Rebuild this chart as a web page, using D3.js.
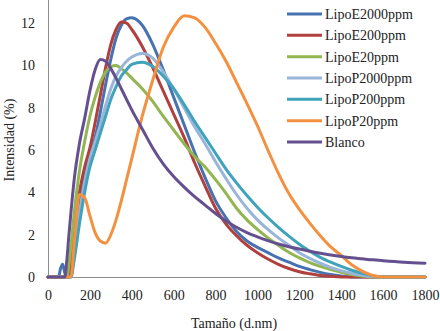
<!DOCTYPE html>
<html>
<head>
<meta charset="utf-8">
<script src="https://cdn.jsdelivr.net/npm/d3@7"></script>
<style>
  body { margin: 0; background: #fff; }
  svg { display: block; }
  svg text { font-family: "Liberation Serif", "Times New Roman", "DejaVu Serif", serif; }
</style>
</head>
<body>
<svg id="size-chart"></svg>
<script>
// particle size grid (d.nm) shared by every series
const sizes = [0, 50, 60, 70, 80, 90, 100, 110, 125, 150, 175, 200, 225, 250, 275, 300, 325, 350, 375, 400,
  450, 500, 550, 600, 650, 700, 750, 800, 850, 900, 950, 1000, 1050, 1100, 1150, 1200, 1250, 1300, 1350, 1400,
  1450, 1500, 1550, 1600, 1700, 1800];

const lipoE2000 = [0, 0, 0.4, 0.6, 0.2, 0, 0, 0.6, 1.8, 3.6, 4.9, 5.8, 6.6, 7.8, 9.1, 10.3, 11.3, 11.9, 12.2, 12.25,
  11.9, 11.0, 9.8, 8.5, 7.2, 5.9, 4.7, 3.6, 2.8, 2.15, 1.7, 1.4, 1.15, 0.9, 0.7, 0.5, 0.35, 0.22, 0.12, 0.05,
  0, 0, 0, 0, 0, 0];
const lipoE200 = [0, 0, 0, 0, 0, 0, 0, 0.8, 2.2, 4.0, 5.2, 6.1, 7.3, 8.6, 9.9, 11.0, 11.7, 12.05, 12.0, 11.7,
  10.9, 9.9, 8.8, 7.7, 6.6, 5.4, 4.3, 3.25, 2.5, 1.95, 1.5, 1.15, 0.85, 0.6, 0.4, 0.25, 0.15, 0.07, 0.03, 0,
  0, 0, 0, 0, 0, 0];
const lipoE20 = [0, 0, 0, 0, 0, 0, 0.6, 1.5, 3.0, 5.0, 6.4, 7.6, 8.5, 9.2, 9.7, 9.95, 10.0, 9.85, 9.65, 9.4,
  8.9, 8.3, 7.6, 6.95, 6.3, 5.7, 5.2, 4.6, 3.95, 3.25, 2.7, 2.25, 1.85, 1.5, 1.17, 0.9, 0.68, 0.5, 0.35, 0.22,
  0.12, 0.05, 0, 0, 0, 0];
const lipoP2000 = [0, 0, 0, 0, 0, 0, 0, 0, 1.2, 3.0, 4.5, 5.6, 6.4, 7.2, 8.1, 8.9, 9.5, 9.9, 10.2, 10.4,
  10.57, 10.35, 9.7, 8.9, 8.0, 7.1, 6.3, 5.45, 4.65, 3.9, 3.25, 2.7, 2.25, 1.85, 1.5, 1.15, 0.88, 0.65, 0.45, 0.3,
  0.18, 0.08, 0.02, 0, 0, 0];
const lipoP200 = [0, 0, 0, 0, 0, 0, 0, 0, 0.8, 2.5, 4.0, 5.2, 6.0, 6.8, 7.6, 8.4, 9.0, 9.5, 9.8, 10.05,
  10.15, 9.95, 9.5, 8.9, 8.15, 7.35, 6.6, 5.85, 5.1, 4.45, 3.85, 3.3, 2.8, 2.35, 1.93, 1.55, 1.22, 0.93, 0.7, 0.5,
  0.32, 0.17, 0.06, 0, 0, 0];
const lipoP20 = [0, 0, 0, 0, 0, 0, 0, 0, 1.6, 3.9, 3.75, 2.9, 2.1, 1.7, 1.6, 2.0, 2.7, 3.6, 4.6, 5.6,
  7.6, 9.3, 10.85, 11.8, 12.35, 12.25, 11.8, 11.05, 10.2, 9.2, 8.2, 7.15, 6.0, 4.9, 3.95, 3.2, 2.55, 1.95, 1.42, 1.02,
  0.58, 0.28, 0.07, 0, 0, 0];
const blanco = [0, 0, 0, 0, 0, 0.8, 2.0, 3.1, 4.6, 6.3, 7.5, 8.8, 9.8, 10.28, 10.2, 9.85, 9.4, 8.9, 8.4, 7.9,
  7.0, 6.1, 5.35, 4.75, 4.25, 3.8, 3.4, 3.0, 2.65, 2.35, 2.1, 1.9, 1.72, 1.56, 1.43, 1.32, 1.22, 1.12, 1.04, 0.97,
  0.91, 0.86, 0.81, 0.77, 0.7, 0.65];

const seriesNames = ["LipoE2000ppm", "LipoE200ppm", "LipoE20ppm", "LipoP2000ppm", "LipoP200ppm", "LipoP20ppm", "Blanco"];
const seriesValues = [lipoE2000, lipoE200, lipoE20, lipoP2000, lipoP200, lipoP20, blanco];
const seriesColors = ["#4672b0", "#b0403d", "#93b552", "#9ab5da", "#3fa3bc", "#f39140", "#65508f"];

const xTicks = [0, 200, 400, 600, 800, 1000, 1200, 1400, 1600, 1800];
const yTicks = [0, 2, 4, 6, 8, 10, 12];

const serif = "Liberation Serif, Times New Roman, DejaVu Serif, serif";

createSizeChart({ id: "size-chart", width: 440, height: 331 });

function createSizeChart(chartParams) {
  const svg = d3.select(`#${chartParams.id}`)
    .attr("width", chartParams.width)
    .attr("height", chartParams.height)
    .attr("font-family", serif);
  const plot = { left: 48, right: 425, top: 2, bottom: 277 };
  const xLine = d3.scaleLinear().domain([0, 1800]).range([plot.left, plot.right]);
  const yLine = d3.scaleLinear().domain([0, 13]).range([plot.bottom, plot.top]);
  drawAxes(svg, xLine, yLine, plot);
  drawLines(svg, xLine, yLine);
  drawLegend(svg);
}

function drawAxes(svg, xLine, yLine, plot) {
  const xAxis = svg.append("g")
    .attr("transform", `translate(0, ${plot.bottom})`)
    .call(d3.axisBottom(xLine).tickValues(xTicks).tickFormat(d3.format("d")).tickSize(0).tickPadding(13));
  const yAxis = svg.append("g")
    .attr("transform", `translate(${plot.left}, 0)`)
    .call(d3.axisLeft(yLine).tickValues(yTicks).tickFormat(d3.format("d")).tickSize(0).tickPadding(13));

  xAxis.select(".domain").attr("d", `M${plot.left},0.5H${plot.right + 2}`);
  yAxis.select(".domain").attr("d", `M0.5,${plot.bottom}V0`);
  [xAxis, yAxis].forEach(axis => {
    axis.attr("font-family", serif).attr("font-size", 14);
    axis.select(".domain").attr("stroke", "#8c8c8c").attr("stroke-width", 1);
    axis.selectAll("text").attr("fill", "#222");
  });

  svg.append("text")
    .attr("x", 234)
    .attr("y", 328)
    .attr("text-anchor", "middle")
    .attr("fill", "#222")
    .attr("font-size", 14)
    .text("Tamaño (d.nm)");

  svg.append("text")
    .attr("transform", "translate(14, 140) rotate(-90)")
    .attr("text-anchor", "middle")
    .attr("fill", "#222")
    .attr("font-size", 14)
    .text("Intensidad (%)");
}

function drawLines(svg, xLine, yLine) {
  const line = d3.line()
    .x((d, i) => xLine(sizes[i]))
    .y(d => yLine(d))
    .curve(d3.curveMonotoneX);

  svg.append("g")
    .selectAll("path")
    .data(seriesValues)
    .enter()
    .append("path")
    .attr("fill", "none")
    .attr("stroke", (d, i) => seriesColors[i])
    .attr("stroke-width", 3)
    .attr("stroke-linejoin", "round")
    .attr("stroke-linecap", "round")
    .attr("d", d => line(d));
}

function drawLegend(svg) {
  const rowY = d3.scaleLinear().domain([0, seriesNames.length - 1]).range([14, 142]);
  const rows = svg.append("g")
    .selectAll("g")
    .data(seriesNames)
    .enter()
    .append("g")
    .attr("transform", (d, i) => `translate(287, ${rowY(i)})`);

  rows.append("line")
    .attr("x1", 0)
    .attr("x2", 35)
    .attr("stroke", (d, i) => seriesColors[i])
    .attr("stroke-width", 3);

  rows.append("text")
    .attr("x", 38)
    .attr("dy", "0.35em")
    .attr("fill", "#222")
    .attr("font-size", 14)
    .text(d => d);
}
</script>
</body>
</html>
